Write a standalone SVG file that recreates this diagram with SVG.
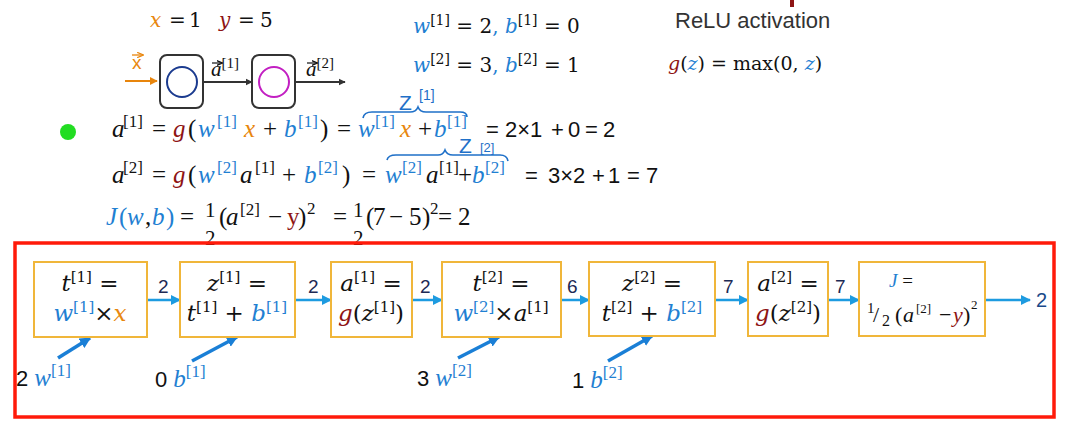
<svg xmlns="http://www.w3.org/2000/svg" width="1069" height="438" viewBox="0 0 1069 438">
<style>
.m{font-family:"Liberation Serif","DejaVu Serif",serif;font-size:25px;fill:#111}
.d{font-family:"DejaVu Serif","Liberation Serif",serif;fill:#111}
.ss{font-family:"Liberation Sans","Open Sans",sans-serif;fill:#111}
.i{font-style:italic}
.s{font-size:17px;font-style:normal}
.b{fill:#1f80d2}
.o{fill:#e8870e}
.r{fill:#8e1414}
.box{fill:#fff;stroke:#f0b63a;stroke-width:2}
.nb{fill:#fff;stroke:#333;stroke-width:2}
.ar{stroke:#1d9be0;stroke-width:2.5;fill:none}
.da{stroke:#1a7fd6;stroke-width:3.5;fill:none}
.lbl{font-family:"Liberation Sans","Open Sans",sans-serif;font-size:19px;fill:#1c2a55}
.hw{font-family:"Liberation Sans",sans-serif;fill:#1f70c8}
.br{stroke:#1f70c8;stroke-width:1.6;fill:none}
.bx{font-size:23px}
.bs{font-size:15px;font-style:normal}
</style>
<defs>
<marker id="ah" viewBox="0 0 10 10" refX="9" refY="5" markerWidth="4" markerHeight="4" orient="auto" markerUnits="strokeWidth"><path d="M0,0 L10,5 L0,10 z" fill="#1d9be0"/></marker>
<marker id="ahd" viewBox="0 0 10 10" refX="9" refY="5" markerWidth="3.2" markerHeight="3.2" orient="auto" markerUnits="strokeWidth"><path d="M0,0 L10,5 L0,10 z" fill="#1a7fd6"/></marker>
<marker id="ahk" viewBox="0 0 10 10" refX="9" refY="5" markerWidth="4" markerHeight="4" orient="auto" markerUnits="strokeWidth"><path d="M0,0 L10,5 L0,10 z" fill="#333"/></marker>
<marker id="aho" viewBox="0 0 10 10" refX="9" refY="5" markerWidth="4" markerHeight="4" orient="auto" markerUnits="strokeWidth"><path d="M0,0 L10,5 L0,10 z" fill="#e8850c"/></marker>
<marker id="vec" viewBox="0 0 10 10" refX="9" refY="5" markerWidth="5" markerHeight="5" orient="auto" markerUnits="strokeWidth"><path d="M0,1 L10,5 L0,9" fill="none" stroke="context-stroke" stroke-width="2"/></marker>
</defs>
<rect width="1069" height="438" fill="#fff"/>
<rect x="790" y="0" width="4" height="7" fill="#8e1414"/>

<g id="givens">
<text class="d" style="font-size:20px"><tspan x="150" y="27" class="i o">x</tspan><tspan x="169" y="27">=</tspan><tspan x="189" y="27">1</tspan><tspan x="219" y="27" class="i r">y</tspan><tspan x="238" y="27">=</tspan><tspan x="260" y="27">5</tspan></text>
<text class="d" x="413" y="33" style="font-size:20px"><tspan class="i b">w</tspan><tspan class="bs" style="font-size:14px" dy="-8">[1]</tspan><tspan dy="8"> = 2</tspan><tspan class="b">, </tspan><tspan class="i b">b</tspan><tspan class="bs" style="font-size:14px" dy="-8">[1]</tspan><tspan dy="8"> = 0</tspan></text>
<text class="d" x="413" y="72" style="font-size:20px"><tspan class="i b">w</tspan><tspan class="bs" style="font-size:14px" dy="-8">[2]</tspan><tspan dy="8"> = 3</tspan><tspan class="b">, </tspan><tspan class="i b">b</tspan><tspan class="bs" style="font-size:14px" dy="-8">[2]</tspan><tspan dy="8"> = 1</tspan></text>
<text class="ss" x="675" y="28" style="font-size:22px;fill:#333">ReLU activation</text>
<text class="d" x="668" y="70" style="font-size:19px"><tspan class="i r">g</tspan>(<tspan class="i b">z</tspan>) = max(0, <tspan class="i b">z</tspan>)</text>
</g>

<g id="network">
<line x1="125" y1="81" x2="157" y2="81" stroke="#e8850c" stroke-width="2" marker-end="url(#aho)"/>
<text class="ss o" x="132" y="69" style="font-size:19px">x</text>
<line x1="132" y1="55" x2="143" y2="55" stroke="#e8850c" stroke-width="1.3" marker-end="url(#vec)"/>
<g id="n1"><rect class="nb" x="160" y="55" width="43" height="53" rx="7"/><circle cx="182" cy="82" r="15" fill="none" stroke="#1b3b8f" stroke-width="2"/></g>
<line x1="203" y1="82" x2="252" y2="82" stroke="#333" stroke-width="1.8" marker-end="url(#ahk)"/>
<text class="m" x="211" y="76" style="font-size:21px"><tspan class="i">a</tspan><tspan class="s" style="font-size:15px" dy="-8">[1]</tspan></text>
<line x1="212" y1="63" x2="222" y2="63" stroke="#111" stroke-width="1.2" marker-end="url(#vec)"/>
<g id="n2"><rect class="nb" x="252" y="55" width="43" height="53" rx="7"/><circle cx="274" cy="82" r="15" fill="none" stroke="#c21fc2" stroke-width="2"/></g>
<line x1="295" y1="82" x2="345" y2="82" stroke="#333" stroke-width="1.8" marker-end="url(#ahk)"/>
<text class="m" x="306" y="76" style="font-size:21px"><tspan class="i">a</tspan><tspan class="s" style="font-size:15px" dy="-8">[2]</tspan></text>
<line x1="307" y1="63" x2="317" y2="63" stroke="#111" stroke-width="1.2" marker-end="url(#vec)"/>
</g>

<circle cx="68" cy="132" r="8" fill="#22dd22"/>

<g id="equations">
<text class="m"><tspan x="112" y="137" class="i">a</tspan><tspan x="123" y="127" class="s">[1]</tspan><tspan x="152" y="137">=</tspan><tspan x="173" y="137" class="i r">g</tspan><tspan x="188" y="137">(</tspan><tspan x="198" y="137" class="i b">w</tspan><tspan x="217" y="127" class="s b">[1]</tspan><tspan x="244" y="137" class="i o">x</tspan><tspan x="263" y="137">+</tspan><tspan x="284" y="137" class="i b">b</tspan><tspan x="298" y="127" class="s b">[1]</tspan><tspan x="320" y="137">)</tspan></text>
<text class="m"><tspan x="337" y="137">=</tspan><tspan x="358" y="137" class="i b">w</tspan><tspan x="375" y="127" class="s b">[1]</tspan><tspan x="400" y="137" class="i o">x</tspan><tspan x="418" y="137">+</tspan><tspan x="434" y="137" class="i b">b</tspan><tspan x="447" y="127" class="s b">[1]</tspan></text>
<text class="ss" style="font-size:22px"><tspan x="486" y="137">=</tspan><tspan x="505" y="137">2×1</tspan><tspan x="551" y="137">+</tspan><tspan x="568" y="137">0</tspan><tspan x="585" y="137">=</tspan><tspan x="603" y="137">2</tspan></text>

<text class="m"><tspan x="112" y="183" class="i">a</tspan><tspan x="123" y="173" class="s">[2]</tspan><tspan x="152" y="183">=</tspan><tspan x="173" y="183" class="i r">g</tspan><tspan x="188" y="183">(</tspan><tspan x="198" y="183" class="i b">w</tspan><tspan x="217" y="173" class="s b">[2]</tspan><tspan x="240" y="183" class="i">a</tspan><tspan x="255" y="173" class="s">[1]</tspan><tspan x="282" y="183">+</tspan><tspan x="304" y="183" class="i b">b</tspan><tspan x="318" y="173" class="s b">[2]</tspan><tspan x="342" y="183">)</tspan></text>
<text class="m"><tspan x="362" y="183">=</tspan><tspan x="385" y="183" class="i b">w</tspan><tspan x="402" y="173" class="s b">[2]</tspan><tspan x="426" y="183" class="i">a</tspan><tspan x="439" y="173" class="s">[1]</tspan><tspan x="458" y="183">+</tspan><tspan x="472" y="183" class="i b">b</tspan><tspan x="485" y="173" class="s b">[2]</tspan></text>
<text class="ss" style="font-size:22px"><tspan x="525" y="183">=</tspan><tspan x="548" y="183">3×2</tspan><tspan x="592" y="183">+</tspan><tspan x="608" y="183">1</tspan><tspan x="627" y="183">=</tspan><tspan x="646" y="183">7</tspan></text>

<text class="m"><tspan x="106" y="225" class="i b">J</tspan><tspan x="119" y="225" class="b">(</tspan><tspan x="127" y="225" class="i b">w</tspan><tspan x="145" y="225">,</tspan><tspan x="152" y="225" class="i b">b</tspan><tspan x="166" y="225" class="b">)</tspan><tspan x="180" y="225">=</tspan></text>
<text class="m"><tspan x="219" y="225">(</tspan><tspan x="226" y="225" class="i">a</tspan><tspan x="240" y="215" class="s">[2]</tspan><tspan x="268" y="225">−</tspan><tspan x="287" y="225" class="r">y</tspan><tspan x="298" y="225">)</tspan><tspan x="307" y="214" class="s">2</tspan></text>
<text class="m"><tspan x="333" y="225">=</tspan></text>
<text class="m"><tspan x="366" y="225">(</tspan><tspan x="373" y="225">7</tspan><tspan x="389" y="225">−</tspan><tspan x="409" y="225">5</tspan><tspan x="422" y="225">)</tspan><tspan x="430" y="214" class="s">2</tspan><tspan x="438" y="225">=</tspan><tspan x="458" y="225">2</tspan></text>
<text class="m" style="font-size:21px"><tspan x="205" y="217">1</tspan><tspan x="205" y="245">2</tspan></text>
<text class="m" style="font-size:21px"><tspan x="353" y="217">1</tspan><tspan x="353" y="245">2</tspan></text>

<path class="br" d="M363,118 Q364,112 372,112 L410,112 Q416,112 418,107 Q420,112 426,112 L460,112 Q467,112 467,117"/>
<text class="hw" x="399" y="110" style="font-size:21px">Z</text>
<text class="hw" x="419" y="100" style="font-size:14px">[1]</text>
<path class="br" d="M387,160 Q388,155 396,155 L438,155 Q443,155 445,150 Q447,155 453,155 L500,155 Q507,155 508,161"/>
<text class="hw" x="459" y="153" style="font-size:21px">Z</text>
<text class="hw" x="480" y="152" style="font-size:13px">[2]</text>
</g>

<g id="connectors">
<line class="ar" x1="147" y1="300" x2="180" y2="300" marker-end="url(#ah)"/>
<line class="ar" x1="295" y1="300" x2="331" y2="300" marker-end="url(#ah)"/>
<line class="ar" x1="412" y1="300" x2="442" y2="300" marker-end="url(#ah)"/>
<line class="ar" x1="561" y1="300" x2="589" y2="300" marker-end="url(#ah)"/>
<line class="ar" x1="715" y1="300" x2="748" y2="300" marker-end="url(#ah)"/>
<line class="ar" x1="828" y1="300" x2="859" y2="300" marker-end="url(#ah)"/>
<line class="ar" x1="985" y1="300" x2="1030" y2="300" marker-end="url(#ah)"/>
<line class="da" x1="58" y1="358" x2="90" y2="338" marker-end="url(#ahd)"/>
<line class="da" x1="192" y1="361" x2="237" y2="337" marker-end="url(#ahd)"/>
<line class="da" x1="458" y1="358" x2="499" y2="337" marker-end="url(#ahd)"/>
<line class="da" x1="608" y1="361" x2="652" y2="336" marker-end="url(#ahd)"/>
<text class="lbl" x="158" y="293">2</text>
<text class="lbl" x="308" y="293">2</text>
<text class="lbl" x="420" y="293">2</text>
<text class="lbl" x="567" y="293">6</text>
<text class="lbl" x="723" y="293">7</text>
<text class="lbl" x="835" y="293">7</text>
<text class="lbl" x="1036" y="307" style="font-size:20px;fill:#1a4a8a">2</text>
</g>

<g id="node-t1"><rect class="box" x="34" y="262" width="113" height="75"/>
<text class="d bx" x="90" y="291" text-anchor="middle"><tspan class="i">t</tspan><tspan class="bs" dy="-9">[1]</tspan><tspan dy="9"> =</tspan></text>
<text class="d bx" x="90" y="321" text-anchor="middle"><tspan class="i b">w</tspan><tspan class="bs b" dy="-9">[1]</tspan><tspan dy="9">×</tspan><tspan class="i o">x</tspan></text></g>

<g id="node-z1"><rect class="box" x="180" y="262" width="115" height="75"/>
<text class="d bx" x="237" y="291" text-anchor="middle"><tspan class="i">z</tspan><tspan class="bs" dy="-9">[1]</tspan><tspan dy="9"> =</tspan></text>
<text class="d bx" x="237" y="321" text-anchor="middle"><tspan class="i">t</tspan><tspan class="bs" dy="-9">[1]</tspan><tspan dy="9"> + </tspan><tspan class="i b">b</tspan><tspan class="bs b" dy="-9">[1]</tspan></text></g>

<g id="node-a1"><rect class="box" x="331" y="262" width="81" height="75"/>
<text class="d bx" x="371" y="291" text-anchor="middle"><tspan class="i">a</tspan><tspan class="bs" dy="-9">[1]</tspan><tspan dy="9"> =</tspan></text>
<text class="d bx" x="371" y="321" text-anchor="middle"><tspan class="i r">g</tspan>(<tspan class="i">z</tspan><tspan class="bs" dy="-9">[1]</tspan><tspan dy="9">)</tspan></text></g>

<g id="node-t2"><rect class="box" x="442" y="262" width="119" height="75"/>
<text class="d bx" x="501" y="291" text-anchor="middle"><tspan class="i">t</tspan><tspan class="bs" dy="-9">[2]</tspan><tspan dy="9"> =</tspan></text>
<text class="d bx" x="501" y="321" text-anchor="middle"><tspan class="i b">w</tspan><tspan class="bs b" dy="-9">[2]</tspan><tspan dy="9">×</tspan><tspan class="i">a</tspan><tspan class="bs" dy="-9">[1]</tspan></text></g>

<g id="node-z2"><rect class="box" x="589" y="262" width="126" height="74"/>
<text class="d bx" x="652" y="291" text-anchor="middle"><tspan class="i">z</tspan><tspan class="bs" dy="-9">[2]</tspan><tspan dy="9"> =</tspan></text>
<text class="d bx" x="652" y="321" text-anchor="middle"><tspan class="i">t</tspan><tspan class="bs" dy="-9">[2]</tspan><tspan dy="9"> + </tspan><tspan class="i b">b</tspan><tspan class="bs b" dy="-9">[2]</tspan></text></g>

<g id="node-a2"><rect class="box" x="748" y="262" width="80" height="74"/>
<text class="d bx" x="788" y="291" text-anchor="middle"><tspan class="i">a</tspan><tspan class="bs" dy="-9">[2]</tspan><tspan dy="9"> =</tspan></text>
<text class="d bx" x="788" y="321" text-anchor="middle"><tspan class="i r">g</tspan>(<tspan class="i">z</tspan><tspan class="bs" dy="-9">[2]</tspan><tspan dy="9">)</tspan></text></g>

<g id="node-J"><rect class="box" x="859" y="262" width="126" height="74"/>
<text class="m" x="889" y="287" style="font-size:19px"><tspan class="i b">J</tspan> =</text>
<text class="m" style="font-size:22px"><tspan x="867" y="313" style="font-size:15px">1</tspan><tspan x="873" y="322">/</tspan><tspan x="882" y="326" style="font-size:16px">2</tspan><tspan x="895" y="322">(</tspan><tspan x="903" y="322" class="i">a</tspan><tspan x="916" y="313" style="font-size:13px">[2]</tspan><tspan x="939" y="322">−</tspan><tspan x="953" y="322" class="i r">y</tspan><tspan x="963" y="322">)</tspan><tspan x="971" y="309" style="font-size:13px">2</tspan></text></g>

<g id="inputs">
<text class="m" x="16" y="386"><tspan class="ss" style="font-size:22px">2 </tspan><tspan class="i b">w</tspan><tspan class="s b" dy="-10">[1]</tspan></text>
<text class="m" x="155" y="387"><tspan class="ss" style="font-size:22px">0 </tspan><tspan class="i b">b</tspan><tspan class="s b" dy="-10">[1]</tspan></text>
<text class="m" x="417" y="386"><tspan class="ss" style="font-size:22px">3 </tspan><tspan class="i b">w</tspan><tspan class="s b" dy="-10">[2]</tspan></text>
<text class="m" x="572" y="388"><tspan class="ss" style="font-size:22px">1 </tspan><tspan class="i b">b</tspan><tspan class="s b" dy="-10">[2]</tspan></text>
</g>

<rect x="15" y="243" width="1039" height="174" fill="none" stroke="#ff1a0a" stroke-width="3.5"/>
</svg>
